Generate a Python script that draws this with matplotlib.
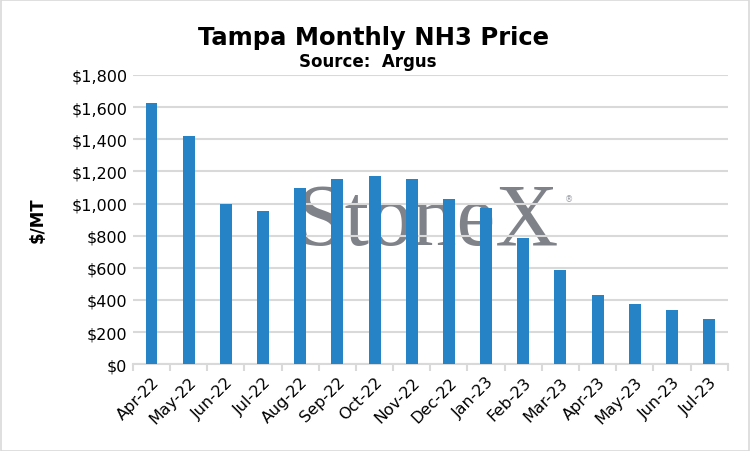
import matplotlib
matplotlib.use('Agg')
import matplotlib.pyplot as plt
import numpy as np
from matplotlib.ticker import FuncFormatter, FixedLocator

months = ['Apr-22', 'May-22', 'Jun-22', 'Jul-22', 'Aug-22', 'Sep-22', 'Oct-22', 'Nov-22',
          'Dec-22', 'Jan-23', 'Feb-23', 'Mar-23', 'Apr-23', 'May-23', 'Jun-23', 'Jul-23']
price = [1623, 1423, 999, 956, 1099, 1151, 1174, 1151,
         1030, 973, 786, 586, 430, 374, 337, 281]

plt.rcParams['font.family'] = ['DejaVu Sans']

fig = plt.figure(figsize=(7.51, 4.52), dpi=100)
ax = fig.add_axes([0.177, 0.192, 0.792, 0.640])

x = np.arange(len(months))
ax.bar(x, price, width=0.32, color='#2683c6', zorder=3)

ax.set_xlim(-0.5, len(months) - 0.5)
ax.set_ylim(0, 1800)
ax.set_yticks(range(0, 1801, 200))
ax.yaxis.set_major_formatter(FuncFormatter(lambda v, p: f'${v:,.0f}'))
ax.grid(axis='y', color='#d9d9d9', linewidth=1.5)
ax.set_axisbelow(True)

ax.set_xticks(x)
ax.set_xticklabels(months, rotation=45, ha='right', rotation_mode='anchor', fontsize=11.5)
ax.tick_params(axis='x', length=0, pad=7)
ax.xaxis.set_minor_locator(FixedLocator(np.arange(-0.5, len(months), 1)))
ax.tick_params(axis='x', which='minor', length=5, color='#d9d9d9', width=1.5)
ax.tick_params(axis='y', length=0, labelsize=11.5, pad=4)

for s in ['top', 'right', 'left']:
    ax.spines[s].set_visible(False)
ax.spines['bottom'].set_color('#d9d9d9')
ax.spines['bottom'].set_linewidth(1.5)

ax.set_ylabel('$/MT', fontsize=12, fontweight='bold', labelpad=18)

fig.text(0.497, 0.915, 'Tampa Monthly NH3 Price', ha='center', va='center',
         fontsize=17.5, fontweight='bold')
fig.text(0.49, 0.862, 'Source:  Argus', ha='center', va='center',
         fontsize=12, fontweight='bold')

# watermark, behind grid and bars
ax.text(0.569, 0.505, 'StoneX', transform=fig.transFigure, ha='center', va='center',
        fontsize=63, family='Liberation Serif', color='#7f8289', zorder=0.2)
ax.text(0.752, 0.553, '®', transform=fig.transFigure, fontsize=6, color='#9a9da3', zorder=0.2)

# outer border
fig.patches.append(plt.Rectangle((0.001, 0.001), 0.997, 0.996, transform=fig.transFigure,
                                 fill=False, edgecolor='#d9d9d9', linewidth=1.2))

fig.savefig('out.png', dpi=100)
